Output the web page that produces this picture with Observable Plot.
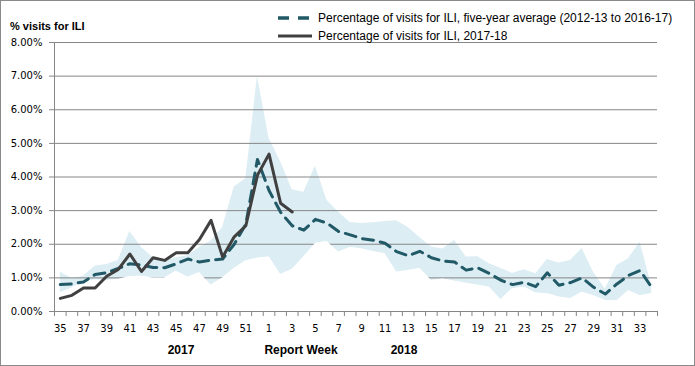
<!DOCTYPE html>
<html><head><meta charset="utf-8">
<script src="https://cdn.jsdelivr.net/npm/d3@7"></script>
<script src="https://cdn.jsdelivr.net/npm/@observablehq/plot@0.6"></script>
<style>
body{margin:0;background:#fff;}
#wrap{position:relative;width:695px;height:366px;overflow:hidden;font-family:"Liberation Sans",Arial,sans-serif;color:#000;}
#wrap svg.plot{position:absolute;left:0;top:0;}
#border{position:absolute;left:0;top:0;width:695px;height:366px;box-sizing:border-box;border:1px solid #8a8a8a;pointer-events:none;}
.ov{position:absolute;white-space:nowrap;}
.ytitle{left:10px;top:20px;font-size:11px;font-weight:bold;line-height:13px;}
.leg{left:278px;font-size:12px;line-height:14px;display:flex;align-items:center;}
.leg svg{margin-right:6px;}
.xl{top:343px;font-size:12px;font-weight:bold;line-height:14px;transform:translateX(-50%);}
</style>
</head><body>
<div id="wrap">
  <div class="ov ytitle">% visits for ILI</div>
  <div class="ov leg" style="top:11px"><svg width="34" height="6"><line x1="0" y1="3" x2="34" y2="3" stroke="#215967" stroke-width="3.5" stroke-dasharray="11,9"/></svg><span>Percentage of visits for ILI, five-year average (2012-13 to 2016-17)</span></div>
  <div class="ov leg" style="top:29px"><svg width="34" height="6"><line x1="0" y1="3" x2="34" y2="3" stroke="#404040" stroke-width="3"/></svg><span>Percentage of visits for ILI, 2017-18</span></div>
  <div class="ov xl" style="left:181px">2017</div>
  <div class="ov xl" style="left:301px">Report Week</div>
  <div class="ov xl" style="left:404px">2018</div>
  <div id="border"></div>
</div>
<script>
// Report weeks, Sept 2017 (week 35) to Aug 2018 (week 34)
const weeks = [35,36,37,38,39,40,41,42,43,44,45,46,47,48,49,50,51,52,
  1,2,3,4,5,6,7,8,9,10,11,12,13,14,15,16,17,18,19,20,21,22,23,24,25,26,27,28,29,30,31,32,33,34];

// Five-year average (2012-13 to 2016-17), % of visits
const avg5yr = [0.80,0.82,0.88,1.10,1.15,1.28,1.42,1.38,1.31,1.30,1.42,1.56,1.47,1.53,1.56,2.00,2.60,4.52,
  3.60,2.95,2.55,2.42,2.74,2.63,2.38,2.28,2.17,2.12,2.03,1.78,1.66,1.79,1.60,1.50,1.47,1.23,1.30,1.13,0.93,0.80,0.87,0.74,1.15,0.78,0.86,1.00,0.72,0.52,0.82,1.07,1.22,0.72];

// 2017-18 season, % of visits (reported weeks only)
const season = [0.39,0.48,0.70,0.70,1.05,1.25,1.71,1.19,1.60,1.52,1.75,1.75,2.14,2.71,1.62,2.22,2.55,4.05,4.68,3.22,2.96];

// Range of the previous five seasons (min and max), % of visits
const bandMax = [1.17,0.98,1.05,1.35,1.40,1.52,2.38,1.90,1.60,1.52,1.60,1.66,1.90,2.10,2.50,3.70,3.95,7.00,
  5.15,4.45,3.62,3.55,4.32,3.30,2.95,2.65,2.62,2.64,2.68,2.70,2.50,2.20,1.92,1.86,2.12,1.62,1.63,1.42,1.28,1.13,1.24,1.12,1.55,1.44,1.52,1.87,1.15,0.67,1.37,1.57,2.06,0.75];
const bandMin = [0.55,0.70,0.87,0.94,0.92,0.95,1.04,1.05,1.00,1.00,1.20,1.02,1.15,0.78,1.00,1.28,1.50,1.58,
  1.62,1.10,1.25,1.62,2.02,2.08,1.76,1.90,1.86,1.78,1.72,1.17,1.22,1.28,0.92,0.97,0.90,0.84,0.78,0.72,0.35,0.68,0.72,0.55,0.53,0.43,0.38,0.57,0.47,0.33,0.31,0.62,0.47,0.53];

const yTicks = [0,1,2,3,4,5,6,7,8];

const idx = weeks.map((w, i) => i);
const band = idx.map(i => ({i, lo: bandMin[i], hi: bandMax[i]}));
const avgData = idx.map(i => ({i, v: avg5yr[i]}));
const curData = season.map((v, i) => ({i, v}));
const labelIdx = idx.filter(i => i % 2 === 0);
const bounds = idx.map(i => i - 0.5).concat([idx.length - 0.5]);

const grey = "#868686";
const chart = Plot.plot({
  width: 695, height: 366,
  marginLeft: 54, marginRight: 38, marginTop: 42, marginBottom: 55,
  style: {background: "transparent", fontFamily: "'DejaVu Sans', Verdana, sans-serif", fontSize: "10px", color: "#000"},
  x: {domain: [-0.5, weeks.length - 0.5]},
  y: {domain: [0, 8]},
  marks: [
    Plot.areaY(band, {x: "i", y1: "lo", y2: "hi", fill: "#dcedf4"}),
    Plot.gridY(yTicks, {stroke: grey, strokeOpacity: 1}),
    Plot.areaY(band, {x: "i", y: "lo", fill: "white"}),
    Plot.frame({anchor: "left", stroke: grey}),
    Plot.frame({anchor: "bottom", stroke: grey}),
    Plot.axisY(yTicks, {tickSize: 5, tickPadding: 7, stroke: grey, tickFormat: d => d.toFixed(2) + "%", label: null}),
    Plot.axisX(bounds, {tickSize: 5, stroke: grey, tickFormat: () => "", label: null}),
    Plot.axisX(labelIdx, {tickSize: 0, tickPadding: 13, tickFormat: i => String(weeks[i]), label: null}),
    Plot.lineY(avgData, {x: "i", y: "v", stroke: "#215967", strokeWidth: 3, strokeDasharray: "11,7", strokeLinejoin: "round"}),
    Plot.lineY(curData, {x: "i", y: "v", stroke: "#404040", strokeWidth: 3, strokeLinejoin: "round"})
  ]
});
document.getElementById("wrap").insertBefore(chart, document.getElementById("wrap").firstChild);
</script>
</body></html>
